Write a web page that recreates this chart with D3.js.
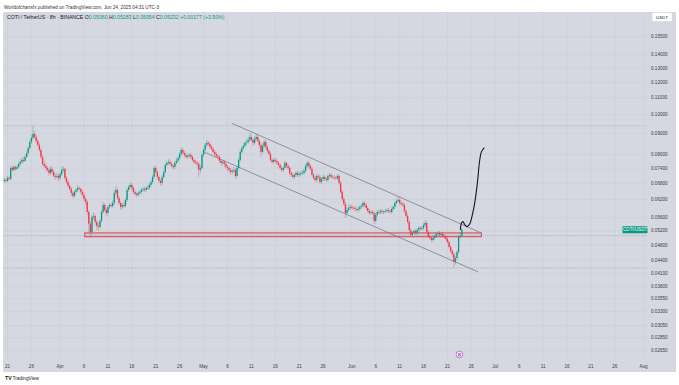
<!DOCTYPE html>
<html lang="en">
<head>
<meta charset="UTF-8">
<title>COTI / TetherUS 8h</title>
<script src="https://d3js.org/d3.v7.min.js"></script>
<style>
  html, body { margin: 0; padding: 0; background: #ffffff; }
  svg { display: block; font-family: "Liberation Sans", Arial, sans-serif; }
  .tick-y { font-size: 4.6px; fill: #3a3d46; }
  .tick-x { font-size: 4.6px; fill: #3a3d46; text-anchor: middle; }
</style>
</head>
<body>
<svg width="679" height="385"></svg>
<script>
// ---- data: 8h candles from 2025-03-20 08:00 UTC ----
const firstOpen = 0.06886;
const closes = [
  .06925,.06886,.07004,.06964,.07409,.07326,.07451,.07368,.07451,.07578,
  .07664,.07750,.07707,.07882,.08061,.08291,.08576,.08771,.08971,.08821,
  .08625,.08432,.08198,.07882,.07578,.07493,.07409,.07326,.07204,.07368,
  .07244,.07083,.07043,.07083,.07004,.07163,.07326,.07368,.07004,.06848,
  .06696,.06583,.06437,.06329,.06473,.06546,.06621,.06583,.06473,.06364,
  .06223,.06119,.05784,.05407,.05168,.05624,.05655,.05468,.05346,.05316,
  .05498,.05784,.06016,.05849,.05752,.05949,.06016,.05983,.06085,.06437,
  .06546,.06258,.06085,.05949,.06016,.05983,.06188,.06546,.06658,.06733,
  .06621,.06473,.06400,.06364,.06437,.06473,.06546,.06583,.06546,.06621,
  .06621,.06733,.06848,.07043,.07409,.07244,.07043,.06886,.06809,.07043,
  .07244,.07535,.07621,.07664,.07578,.07493,.07451,.07621,.07707,.07838,
  .08016,.08198,.08061,.07971,.07882,.07927,.07971,.07882,.07750,.07664,
  .07621,.07578,.07326,.07409,.07971,.08198,.08432,.08528,.08480,.08338,
  .08244,.08107,.08016,.07927,.07882,.07707,.07621,.07664,.07578,.07451,
  .07409,.07326,.07244,.07285,.07326,.07083,.07409,.07750,.08107,.08291,
  .08385,.08528,.08576,.08673,.08821,.08673,.08528,.08722,.08821,.08625,
  .08432,.08107,.08385,.08576,.08338,.08152,.08016,.07750,.07664,.07750,
  .07707,.07621,.07535,.07409,.07326,.07409,.07621,.07493,.07409,.07204,
  .07122,.07043,.07122,.07204,.07122,.07163,.07204,.07204,.07285,.07493,
  .07621,.07493,.07368,.07122,.07004,.06925,.07083,.07043,.06848,.06964,
  .07043,.06964,.06925,.07083,.07122,.07043,.07030,.07004,.06990,.07083,
  .06809,.06473,.06223,.06050,.05752,.05849,.05916,.05949,.05916,.05905,
  .05882,.05849,.05882,.05949,.05983,.06085,.06016,.05916,.05817,.05752,
  .05784,.05752,.05498,.05687,.05784,.05770,.05817,.05784,.05790,.05817,
  .05849,.05817,.05784,.05882,.05949,.06085,.06154,.06188,.06085,.06050,
  .06016,.05817,.05655,.05468,.05226,.05081,.05139,.05197,.05139,.05226,
  .05286,.05256,.05286,.05376,.05437,.05168,.05053,.04996,.04940,.04996,
  .05053,.05110,.05139,.05081,.05110,.05053,.05025,.04968,.04885,.04750,
  .04644,.04566,.04365,.04464,.04618,.05025,.05060,.05232
];
const highs = [
  .07043,.07004,.07083,.07083,.07493,.07493,.07535,.07493,.07535,.07664,
  .07794,.07838,.07882,.07971,.08152,.08385,.08673,.08920,.09384,.09124,
  .08920,.08722,.08528,.08291,.07971,.07707,.07621,.07493,.07409,.07493,
  .07451,.07326,.07163,.07204,.07163,.07244,.07451,.07493,.07409,.07083,
  .06925,.06771,.06658,.06510,.06546,.06621,.06733,.06696,.06658,.06546,
  .06437,.06294,.06188,.05849,.05498,.05687,.05784,.05719,.05529,.05437,
  .05561,.05849,.06119,.06085,.05916,.06016,.06085,.06085,.06188,.06546,
  .06696,.06621,.06329,.06154,.06085,.06119,.06258,.06621,.06733,.06809,
  .06809,.06696,.06546,.06473,.06510,.06546,.06621,.06658,.06658,.06696,
  .06733,.06809,.06925,.07122,.07493,.07493,.07326,.07122,.06964,.07122,
  .07326,.07621,.07707,.07794,.07750,.07664,.07578,.07707,.07838,.07927,
  .08107,.08338,.08291,.08152,.08061,.08016,.08061,.08061,.07971,.07838,
  .07750,.07707,.07664,.07535,.08061,.08291,.08528,.08673,.08625,.08576,
  .08432,.08338,.08198,.08107,.08016,.07971,.07794,.07750,.07750,.07664,
  .07535,.07493,.07409,.07368,.07451,.07409,.07493,.07838,.08198,.08385,
  .08528,.08625,.08722,.08821,.09022,.08920,.08771,.08870,.08971,.08920,
  .08722,.08528,.08480,.08673,.08673,.08432,.08244,.08107,.07838,.07838,
  .07838,.07794,.07707,.07621,.07493,.07493,.07707,.07707,.07578,.07493,
  .07285,.07204,.07204,.07285,.07285,.07244,.07285,.07326,.07368,.07578,
  .07707,.07707,.07578,.07451,.07204,.07083,.07163,.07163,.07122,.07043,
  .07122,.07122,.07043,.07163,.07204,.07204,.07122,.07122,.07083,.07163,
  .07163,.06886,.06546,.06294,.06119,.05949,.06016,.06050,.06016,.05983,
  .05983,.05949,.05949,.06016,.06050,.06154,.06154,.06085,.05983,.05882,
  .05849,.05849,.05817,.05752,.05849,.05882,.05882,.05882,.05849,.05882,
  .05916,.05916,.05882,.05949,.06016,.06154,.06223,.06329,.06258,.06154,
  .06119,.06085,.05882,.05719,.05529,.05286,.05197,.05256,.05256,.05286,
  .05346,.05346,.05346,.05437,.05529,.05498,.05226,.05110,.05053,.05081,
  .05110,.05168,.05197,.05197,.05168,.05168,.05110,.05081,.05025,.04940,
  .04803,.04697,.04618,.04515,.04670,.05081,.05139,.05283
];
const lows = [
  .06809,.06809,.06848,.06886,.06925,.07244,.07285,.07285,.07326,.07409,
  .07493,.07578,.07621,.07664,.07838,.07971,.08198,.08480,.08673,.08722,
  .08528,.08338,.08107,.07794,.07493,.07409,.07285,.07244,.07083,.07122,
  .07122,.07004,.06925,.06964,.06886,.06925,.07083,.07244,.06925,.06771,
  .06621,.06510,.06329,.06258,.06258,.06400,.06473,.06510,.06400,.06294,
  .06154,.06016,.05687,.05168,.04996,.05081,.05529,.05376,.05226,.05197,
  .05256,.05437,.05719,.05784,.05655,.05687,.05882,.05916,.05916,.06016,
  .06364,.06188,.06016,.05849,.05882,.05916,.05916,.06119,.06473,.06583,
  .06546,.06400,.06329,.06294,.06294,.06364,.06400,.06473,.06473,.06473,
  .06546,.06546,.06658,.06771,.06964,.07163,.06964,.06809,.06696,.06733,
  .06964,.07163,.07451,.07535,.07493,.07409,.07326,.07368,.07535,.07621,
  .07750,.07927,.07971,.07882,.07794,.07794,.07838,.07794,.07664,.07578,
  .07535,.07451,.07043,.07204,.07326,.07882,.08107,.08338,.08385,.08244,
  .08152,.08016,.07927,.07838,.07750,.07621,.07493,.07535,.07451,.07368,
  .07285,.07204,.07122,.07163,.07204,.06964,.07004,.07326,.07664,.08016,
  .08198,.08291,.08432,.08480,.08576,.08576,.08385,.08432,.08625,.08528,
  .08291,.07882,.08016,.08291,.08244,.08061,.07927,.07664,.07578,.07578,
  .07621,.07535,.07451,.07326,.07244,.07244,.07326,.07409,.07326,.07122,
  .07043,.06964,.06964,.07043,.07043,.07043,.07083,.07122,.07122,.07204,
  .07409,.07409,.07285,.07043,.06925,.06848,.06848,.06964,.06771,.06771,
  .06886,.06886,.06848,.06848,.07004,.06964,.06964,.06925,.06925,.06925,
  .06733,.06400,.06154,.05983,.05592,.05687,.05784,.05849,.05849,.05849,
  .05817,.05784,.05784,.05817,.05882,.05916,.05949,.05849,.05752,.05687,
  .05687,.05687,.05407,.05437,.05624,.05719,.05719,.05719,.05719,.05752,
  .05752,.05752,.05719,.05719,.05817,.05882,.06016,.06085,.06016,.05983,
  .05949,.05752,.05592,.05407,.05139,.05025,.05025,.05110,.05081,.05081,
  .05168,.05197,.05197,.05226,.05316,.05110,.04996,.04940,.04885,.04885,
  .04940,.04996,.05053,.05025,.05025,.04996,.04968,.04913,.04830,.04697,
  .04592,.04490,.04221,.04292,.04414,.04566,.04968,.05054
];

// axis ticks
const priceTicks = [0.155, 0.14, 0.13, 0.12, 0.11, 0.10, 0.09, 0.08, 0.074, 0.068, 0.062,
  0.056, 0.052, 0.048, 0.044, 0.041, 0.038, 0.0355, 0.033, 0.0305, 0.0285, 0.0265];
const timeTicks = ["2025-03-21","2025-03-26","2025-04-01","2025-04-06","2025-04-11","2025-04-16",
  "2025-04-21","2025-04-26","2025-05-01","2025-05-06","2025-05-11","2025-05-16","2025-05-21",
  "2025-05-26","2025-06-01","2025-06-06","2025-06-11","2025-06-16","2025-06-21","2025-06-26",
  "2025-07-01","2025-07-06","2025-07-11","2025-07-16","2025-07-21","2025-07-26","2025-08-01"];
const timeLabels = ["21","26","Apr","6","11","16","21","26","May","6","11","16","21","26",
  "Jun","6","11","16","21","26","Jul","6","11","16","21","26","Aug"];

// drawings (time, price)
const upperChannel = [["2025-05-06T21:00Z", 0.09528], ["2025-06-28T02:00Z", 0.05139]];
const lowerChannel = [["2025-05-01T01:00Z", 0.08107], ["2025-06-27T11:00Z", 0.04126]];
const supportZone = { from: "2025-04-06T04:00Z", to: "2025-06-28T02:00Z", top: 0.0514, bottom: 0.0503 };
const projection = [
  ["2025-06-23T17:00Z", 0.05226], ["2025-06-23T22:00Z", 0.05427], ["2025-06-24T06:00Z", 0.05477],
  ["2025-06-24T14:00Z", 0.05397], ["2025-06-25T02:00Z", 0.05325], ["2025-06-25T15:00Z", 0.05397],
  ["2025-06-26T05:00Z", 0.05687], ["2025-06-26T18:00Z", 0.06129], ["2025-06-27T07:00Z", 0.06859],
  ["2025-06-27T17:00Z", 0.07676], ["2025-06-28T03:00Z", 0.0812], ["2025-06-28T17:00Z", 0.08305]
];
const priceLines = [0.0939, 0.0506, 0.0422];
const eventDate = "2025-06-23T12:00Z";

// ---- layout ----
const pane = { left: 3, right: 647, top: 12, bottom: 360 };
const upColor = "#089981", downColor = "#f23645";

const svg = d3.select("svg");

const x = d3.scaleUtc()
  .domain([new Date("2025-03-21T00:00Z"), new Date("2025-08-01T00:00Z")])
  .range([7.5, 643.5]);

const y = d3.scaleLog()
  .domain([0.0265, 0.155])
  .range([350.7, 36.7]);

const t0 = Date.UTC(2025, 2, 20, 8);
const candles = closes.map((c, i) => ({
  t: new Date(t0 + i * 8 * 3600 * 1000),
  o: i === 0 ? firstOpen : closes[i - 1],
  h: highs[i], l: lows[i], c: c
}));

// background
svg.append("rect").attr("width", 679).attr("height", 385).attr("fill", "#ffffff");
svg.append("rect")
  .attr("x", 3).attr("y", 12).attr("width", 673).attr("height", 360)
  .attr("fill", "#d5d8e1");

// grid
const grid = svg.append("g").attr("stroke", "#cbced8").attr("stroke-width", 0.6);
grid.selectAll(".vg").data(timeTicks).enter().append("line")
  .attr("x1", d => x(new Date(d + "T00:00Z"))).attr("x2", d => x(new Date(d + "T00:00Z")))
  .attr("y1", pane.top).attr("y2", pane.bottom);
grid.selectAll(".hg").data(priceTicks).enter().append("line")
  .attr("x1", pane.left).attr("x2", pane.right)
  .attr("y1", d => y(d)).attr("y2", d => y(d));

// price axis labels
svg.append("g").selectAll("text").data(priceTicks).enter().append("text")
  .attr("class", "tick-y")
  .attr("x", 651).attr("y", d => y(d) + 1.6)
  .text(d => d.toFixed(5));

// time axis labels
svg.append("g").selectAll("text").data(timeTicks).enter().append("text")
  .attr("class", "tick-x")
  .attr("x", d => x(new Date(d + "T00:00Z"))).attr("y", 367.5)
  .text((d, i) => timeLabels[i]);

// dotted price lines
svg.append("g").selectAll("line").data(priceLines).enter().append("line")
  .attr("x1", pane.left).attr("x2", pane.right)
  .attr("y1", d => y(d)).attr("y2", d => y(d))
  .attr("stroke", "#8f949e").attr("stroke-width", 0.6)
  .attr("stroke-dasharray", "1,1.2");

// support zone
svg.append("rect")
  .attr("x", x(new Date(supportZone.from)))
  .attr("y", y(supportZone.top))
  .attr("width", x(new Date(supportZone.to)) - x(new Date(supportZone.from)))
  .attr("height", y(supportZone.bottom) - y(supportZone.top))
  .attr("fill", "rgba(242,54,69,0.08)")
  .attr("stroke", "#d7333f").attr("stroke-width", 0.9);

// channel
const seg = d3.line().x(d => x(new Date(d[0]))).y(d => y(d[1]));
[upperChannel, lowerChannel].forEach(ch => {
  svg.append("path").attr("d", seg(ch))
    .attr("fill", "none").attr("stroke", "#6f7380").attr("stroke-width", 0.7);
});

// candles
const bw = 1.3;
const cg = svg.append("g");
cg.selectAll(".wick").data(candles).enter().append("line")
  .attr("x1", d => x(d.t)).attr("x2", d => x(d.t))
  .attr("y1", d => y(d.h)).attr("y2", d => y(d.l))
  .attr("stroke", d => d.c >= d.o ? upColor : downColor)
  .attr("stroke-opacity", 0.6).attr("stroke-width", 0.6);
cg.selectAll(".body").data(candles).enter().append("rect")
  .attr("x", d => x(d.t) - bw / 2)
  .attr("y", d => y(Math.max(d.o, d.c)))
  .attr("width", bw)
  .attr("height", d => Math.max(0.6, Math.abs(y(d.o) - y(d.c))))
  .attr("fill", d => d.c >= d.o ? upColor : downColor);

// projection curve
svg.append("path")
  .attr("d", d3.line().curve(d3.curveCatmullRom.alpha(0.5))
    .x(d => x(new Date(d[0]))).y(d => y(d[1]))(projection))
  .attr("fill", "none").attr("stroke", "#131722").attr("stroke-width", 1.1);

// symbol label at last price
const last = candles[candles.length - 1];
svg.append("rect")
  .attr("x", 622.5).attr("y", y(last.c) - 3.6).attr("width", 25).attr("height", 7.2)
  .attr("rx", 0.6).attr("fill", upColor);
svg.append("text")
  .attr("x", 635).attr("y", y(last.c) + 1.6)
  .attr("text-anchor", "middle").attr("font-size", 4.5).attr("fill", "#ffffff")
  .text("COTI/USDT");

// event marker
const ex = x(new Date(eventDate));
svg.append("circle").attr("cx", ex).attr("cy", 354.5).attr("r", 3.3)
  .attr("fill", "#f3e6f7").attr("stroke", "#a23cc2").attr("stroke-width", 0.6);
svg.append("text").attr("x", ex).attr("y", 356).attr("text-anchor", "middle")
  .attr("font-size", 4).attr("font-weight", "bold").attr("fill", "#a23cc2").text("₿");

// USDT box
svg.append("rect").attr("x", 652).attr("y", 12.5).attr("width", 20).attr("height", 9)
  .attr("fill", "#ffffff").attr("stroke", "#c3c6ce").attr("stroke-width", 0.4);
svg.append("text").attr("x", 662).attr("y", 18.6).attr("text-anchor", "middle")
  .attr("font-size", 4.4).attr("fill", "#131722").text("USDT");

// header
svg.append("text").attr("x", 4).attr("y", 8.5).attr("font-size", 4.7).attr("fill", "#333")
  .text("Worldofchartsfx published on TradingView.com, Jun 24, 2025 04:31 UTC-3");
const hdr = svg.append("text").attr("x", 7).attr("y", 19.2).attr("font-size", 5.2).attr("fill", "#131722");
hdr.append("tspan").text("COTI / TetherUS · 8h · BINANCE  ");
[["O", "0.05060"], ["H", "0.05283"], ["L", "0.05054"], ["C", "0.05232"]].forEach(p => {
  hdr.append("tspan").text(p[0]);
  hdr.append("tspan").attr("fill", upColor).text(p[1] + " ");
});
hdr.append("tspan").attr("fill", upColor).text("+0.00177 (+3.50%)");

// footer logo
svg.append("text").attr("x", 5).attr("y", 379.5).attr("font-size", 5.2)
  .attr("font-weight", "bold").attr("fill", "#131722").text("TV");
svg.append("text").attr("x", 12.5).attr("y", 379.5).attr("font-size", 4.8)
  .attr("fill", "#131722").text("TradingView");
</script>
</body>
</html>
